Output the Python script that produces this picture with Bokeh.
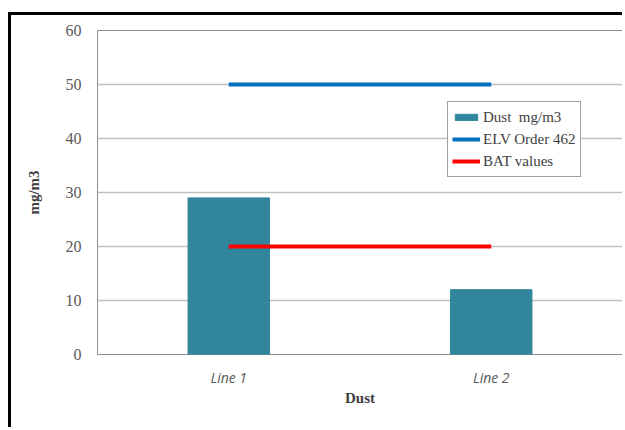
from bokeh.plotting import figure
from bokeh.models import ColumnDataSource, Legend, LegendItem, Range1d, FactorRange, SingleIntervalTicker
from bokeh.embed import file_html
from bokeh.resources import INLINE

# Data
categories = ["Line 1", "Line 2"]
dust = [29, 12]          # measured dust, mg/m3
elv = [50, 50]           # emission limit value, Order 462
bat = [20, 20]           # BAT values

SERIF = "Liberation Serif"
GRAY = "#595959"

p = figure(
    x_range=FactorRange(*categories),
    y_range=Range1d(0, 60),
    width=614, height=415,
    output_backend="svg", toolbar_location=None,
    min_border_left=86, min_border_right=3,
    min_border_top=15, min_border_bottom=76,
)
p.margin = (12, 0, 0, 8)
p.styles = {"border-left": "3px solid black", "border-top": "3px solid black"}

src = ColumnDataSource(dict(cat=categories, dust=dust, elv=elv, bat=bat))

bars = p.vbar(x="cat", top="dust", width=0.31, source=src,
              fill_color="#31859c", line_color="#31859c")
l_elv = p.line(x="cat", y="elv", source=src, line_color="#0070c0", line_width=4)
l_bat = p.line(x="cat", y="bat", source=src, line_color="#ff0000", line_width=4)

# frame and grid
p.outline_line_color = "#8c8c8c"
p.outline_line_width = 1
p.xgrid.grid_line_color = None
p.ygrid.grid_line_color = "#c0c0c0"
p.ygrid.grid_line_width = 1.5
p.background_fill_color = "white"
p.border_fill_color = "white"

# y axis
p.yaxis.ticker = SingleIntervalTicker(interval=10)
p.yaxis.axis_line_color = None
p.yaxis.major_tick_line_color = None
p.yaxis.minor_tick_line_color = None
p.yaxis.major_label_text_font = SERIF
p.yaxis.major_label_text_font_size = "16px"
p.yaxis.major_label_text_color = GRAY
p.yaxis.major_label_standoff = 10
p.yaxis.axis_label = "mg/m3"
p.yaxis.axis_label_text_font = SERIF
p.yaxis.axis_label_text_font_style = "bold"
p.yaxis.axis_label_text_font_size = "15px"
p.yaxis.axis_label_text_color = "#404040"
p.yaxis.axis_label_standoff = 21

# x axis
p.xaxis.axis_line_color = None
p.xaxis.major_tick_line_color = None
p.xaxis.minor_tick_line_color = None
p.xaxis.major_label_text_font = "Open Sans"
p.xaxis.major_label_text_font_style = "italic"
p.xaxis.major_label_text_font_size = "14px"
p.xaxis.major_label_text_color = GRAY
p.xaxis.major_label_standoff = 7
p.xaxis.axis_label = "Dust"
p.xaxis.axis_label_text_font = SERIF
p.xaxis.axis_label_text_font_style = "bold"
p.xaxis.axis_label_text_font_size = "15px"
p.xaxis.axis_label_text_color = "#404040"
p.xaxis.axis_label_standoff = 0

legend = Legend(
    items=[
        LegendItem(label="Dust\u00a0 mg/m3", renderers=[bars]),
        LegendItem(label="ELV Order 462", renderers=[l_elv]),
        LegendItem(label="BAT values", renderers=[l_bat]),
    ],
    location=(350, 177),
    label_text_font=SERIF,
    label_text_font_size="15px",
    label_text_color="#404040",
    label_height=22,
    label_standoff=3,
    glyph_width=28,
    glyph_height=8,
    spacing=0,
    padding=4,
    margin=0,
    border_line_color="#404040",
    border_line_width=1,
    background_fill_color="white",
    background_fill_alpha=1,
)
p.add_layout(legend)

open("out.html", "w").write(file_html(p, INLINE))
